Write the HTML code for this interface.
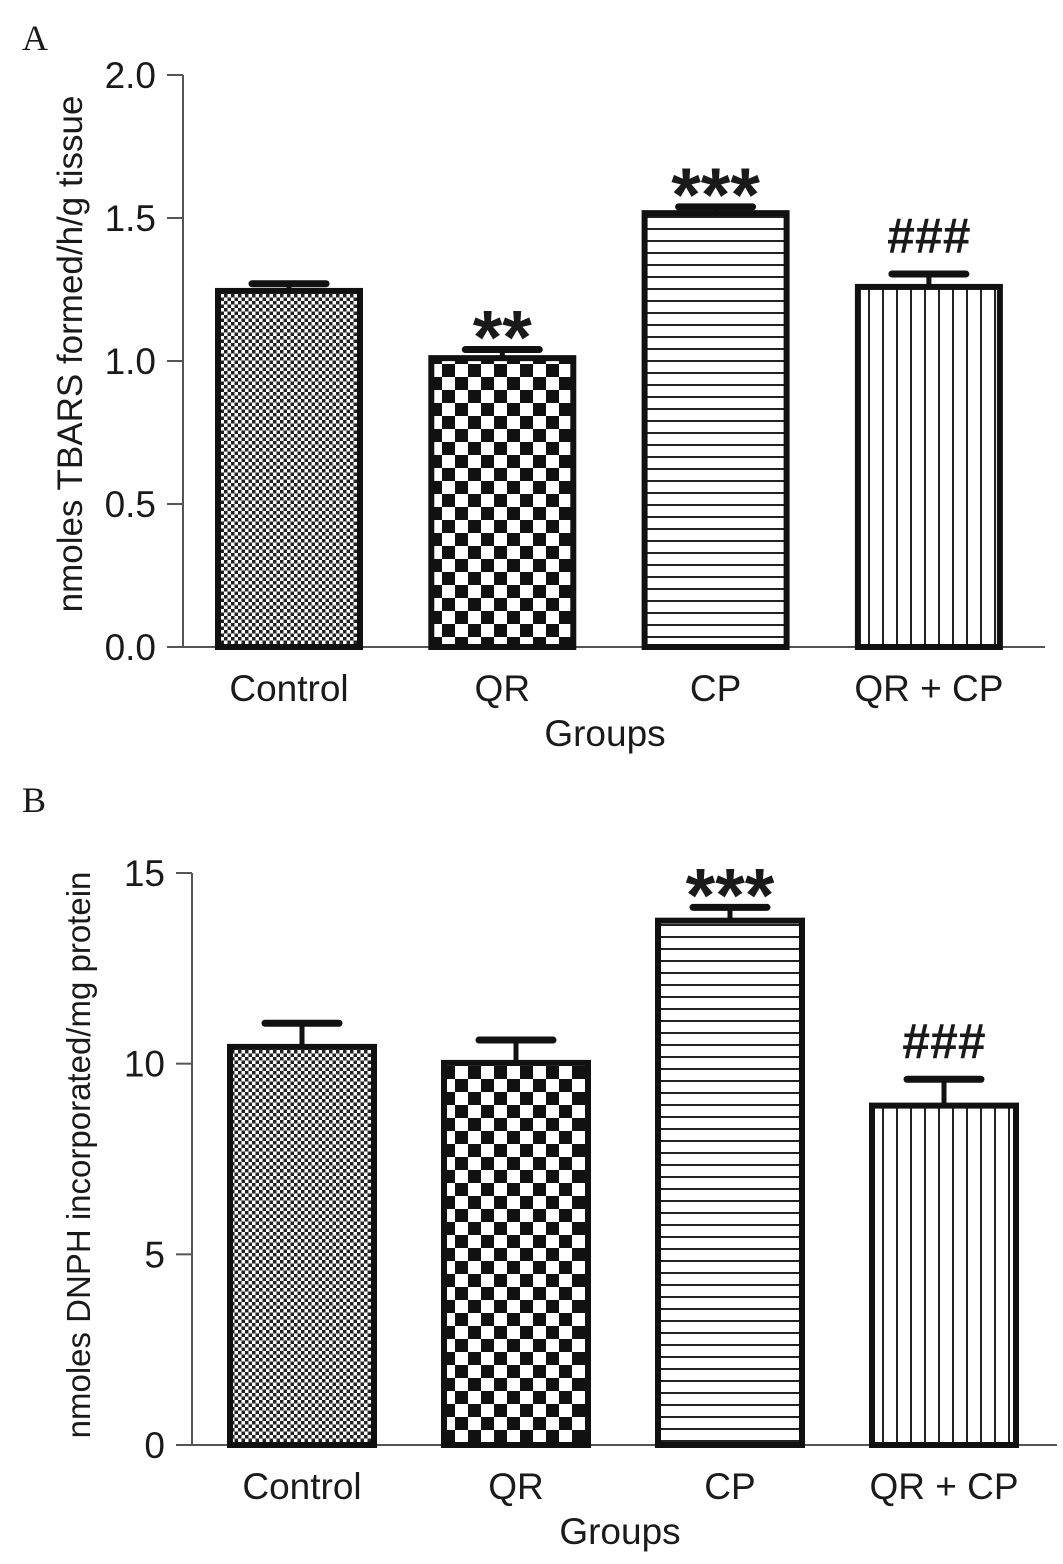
<!DOCTYPE html>
<html><head><meta charset="utf-8"><style>
body{margin:0;background:#fff}
svg{display:block}
text{font-family:"Liberation Sans",sans-serif;fill:#1a1a1a}
</style></head><body>
<svg id="chart" width="1063" height="1564" viewBox="0 0 1063 1564">
<defs>
<pattern id="pDots" width="7" height="7" patternUnits="userSpaceOnUse">
<rect width="7" height="7" fill="#fff"/><rect x="0" y="0" width="3.5" height="3.5" fill="#222"/><rect x="3.5" y="3.5" width="3.5" height="3.5" fill="#222"/></pattern>
<pattern id="pCheck" width="26" height="26" patternUnits="userSpaceOnUse">
<rect width="26" height="26" fill="#fff"/><rect width="13" height="13" fill="#111"/><rect x="13" y="13" width="13" height="13" fill="#111"/></pattern>
<pattern id="pH" width="12" height="12" patternUnits="userSpaceOnUse">
<rect width="12" height="12" fill="#fff"/><rect y="0" width="12" height="2" fill="#222"/></pattern>
<pattern id="pV" width="14" height="14" patternUnits="userSpaceOnUse">
<rect width="14" height="14" fill="#fff"/><rect x="0" width="2" height="14" fill="#222"/></pattern>
</defs>
<text x="22" y="50" style="font-family:'Liberation Serif',serif;font-size:36px">A</text>
<text x="22" y="812" style="font-family:'Liberation Serif',serif;font-size:36px">B</text>
<g id="gA"></g>
<g id="gB"></g>
</svg>
<script>
const categories = ["Control", "QR", "CP", "QR + CP"];
const valuesA = [1.245, 1.01, 1.517, 1.259];
const errorsA = [0.025, 0.03, 0.022, 0.045];
const ticksA = ["0.0", "0.5", "1.0", "1.5", "2.0"];
const tickValsA = [0, 0.5, 1.0, 1.5, 2.0];
const sigA = ["", "**", "***", "###"];
const valuesB = [10.44, 10.02, 13.75, 8.9];
const errorsB = [0.62, 0.6, 0.35, 0.69];
const ticksB = ["0", "5", "10", "15"];
const tickValsB = [0, 5, 10, 15];
const sigB = ["", "", "***", "###"];
const fills = ["url(#pDots)", "url(#pCheck)", "url(#pH)", "url(#pV)"];
const NS = "http://www.w3.org/2000/svg";
function mk(parent, tag, attrs, txt) {
  const e = document.createElementNS(NS, tag);
  for (const k in attrs) e.setAttribute(k, attrs[k]);
  if (txt !== undefined) e.textContent = txt;
  parent.appendChild(e);
  return e;
}
function draw(gid, cfg, values, errors, ticks, tickVals, sig) {
  const g = document.getElementById(gid);
  const y = v => cfg.y0 - (v - cfg.min) / (cfg.max - cfg.min) * (cfg.y0 - cfg.y1);
  const xc = i => cfg.x0 + i * cfg.step;
  const ax = mk(g, "line", {x1: cfg.ax, y1: y(cfg.max), x2: cfg.ax, y2: cfg.y0, stroke: "#555", "stroke-width": 2});
  
  
  const xa = mk(g, "line", {x1: cfg.ax, y1: cfg.y0, x2: cfg.xend, y2: cfg.y0, stroke: "#555", "stroke-width": 2});
  
  
  tickVals.forEach((v, i) => {
    const t = mk(g, "line", {x1: cfg.ax - 16, y1: y(v), x2: cfg.ax, y2: y(v), stroke: "#555", "stroke-width": 2});
    
    
    const l = mk(g, "text", {x: cfg.ax - 27, y: y(v) + 13, "text-anchor": "end", "font-size": 37}, ticks[i]);
    
    
  });
  values.forEach((v, i) => {
    const cx = xc(i), top = y(v), et = y(v + errors[i]);
    const eb = mk(g, "line", {x1: cx, y1: top, x2: cx, y2: et, stroke: "#111", "stroke-width": 5});
    
    
    const cap = mk(g, "line", {x1: cx - 37, y1: et, x2: cx + 37, y2: et, stroke: "#111", "stroke-width": 7, "stroke-linecap": "round"});
    
    
    const b = mk(g, "rect", {x: cx - cfg.bw / 2 + 3, y: top, width: cfg.bw - 6, height: cfg.y0 - top, fill: fills[i], stroke: "#111", "stroke-width": 6});
    
    
    if (sig[i]) {
      const isStar = sig[i][0] === "*";
      const s = mk(g, "text", {x: cx, y: isStar ? et + 14 : et - 21, "text-anchor": "middle", "font-size": isStar ? 76 : 50, "font-weight": "bold"}, sig[i]);
      
      
    }
    const xl = mk(g, "text", {x: cx, y: cfg.y0 + 54, "text-anchor": "middle", "font-size": 37}, categories[i]);
    
    
  });
  const xt = mk(g, "text", {x: cfg.gx, y: cfg.y0 + 99, "text-anchor": "middle", "font-size": 37}, "Groups");
  
  
  const yt = mk(g, "text", {x: 0, y: 0, "text-anchor": "middle", "font-size": cfg.tfs, transform: "translate(" + cfg.tx + "," + cfg.ty + ") rotate(-90)"}, cfg.title);
  
  
}
draw("gA", {y0: 647, y1: 75, min: 0, max: 2, ax: 183, xend: 1045, x0: 289, step: 213.3, bw: 148, gx: 605, tx: 82, ty: 354, tfs: 35, title: "nmoles  TBARS formed/h/g tissue"}, valuesA, errorsA, ticksA, tickValsA, sigA);
draw("gB", {y0: 1445, y1: 873, min: 0, max: 15, ax: 192, xend: 1057, x0: 302, step: 214, bw: 150, gx: 620, tx: 90, ty: 1155, tfs: 33, title: "nmoles DNPH incorporated/mg protein"}, valuesB, errorsB, ticksB, tickValsB, sigB);
</script>
</body></html>
